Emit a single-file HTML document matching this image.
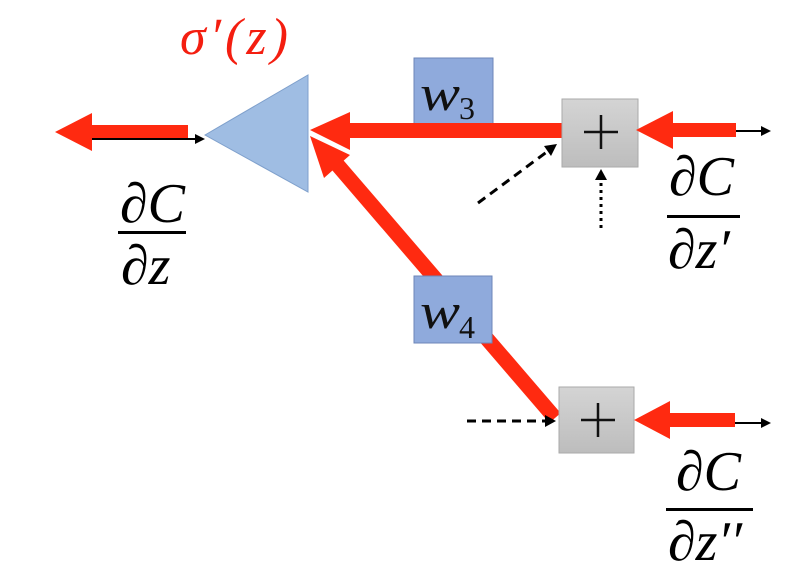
<!DOCTYPE html>
<html><head><meta charset="utf-8"><style>
body{margin:0;background:#fff;width:793px;height:578px;overflow:hidden}
svg text{font-family:"Liberation Serif",serif;font-style:italic}
</style></head><body>
<svg width="793" height="578" viewBox="0 0 793 578">
<defs>
<linearGradient id="g" x1="0" y1="0" x2="0" y2="1"><stop offset="0" stop-color="#d4d4d4"/><stop offset="1" stop-color="#bdbdbd"/></linearGradient>
</defs>
<polygon points="205,135 308,75 308,192" fill="#9fbde3" stroke="#7fa0cc" stroke-width="1"/>
<text x="180" y="54" font-size="52" fill="#f41e10" letter-spacing="4">σ′(z)</text>
<rect x="90" y="125" width="98" height="14" fill="#ff2a10"/>
<polygon points="55,132 92,113 92,151" fill="#ff2a10"/>
<line x1="92" y1="139" x2="198" y2="139" stroke="#000" stroke-width="2"/>
<polygon points="205,139 195,134 195,144" fill="#000"/>
<text x="120" y="222" font-size="56" fill="#000">∂C</text>
<rect x="118" y="231" width="68" height="3" fill="#000"/>
<text x="121" y="284" font-size="56" fill="#000">∂z</text>
<rect x="414" y="58" width="79" height="66" fill="#8faadc" stroke="#6c86b8"/>
<text x="420" y="110" font-size="50" fill="#111" textLength="40" lengthAdjust="spacingAndGlyphs">w</text>
<text x="459" y="119" font-size="32" style="font-style:normal" fill="#111">3</text>
<rect x="345" y="123" width="217" height="15" fill="#ff2a10"/>
<polygon points="310,130 350,112 350,150" fill="#ff2a10"/>
<line x1="555" y1="418" x2="335" y2="162" stroke="#ff2a10" stroke-width="15"/>
<polygon points="310,136 350,155 324,178" fill="#ff2a10"/>
<rect x="414" y="276" width="78" height="67" fill="#8faadc" stroke="#6c86b8"/>
<text x="420" y="328" font-size="50" fill="#111" textLength="40" lengthAdjust="spacingAndGlyphs">w</text>
<text x="459" y="338" font-size="32" style="font-style:normal" fill="#111">4</text>
<rect x="562" y="99" width="76" height="68" fill="url(#g)" stroke="#aaa"/>
<path d="M584,132 H618 M601,115 V149" stroke="#111" stroke-width="2.5"/>
<rect x="559" y="387" width="75" height="66" fill="url(#g)" stroke="#aaa"/>
<path d="M581,420 H615 M598,403 V437" stroke="#111" stroke-width="2.5"/>
<rect x="670" y="123" width="66" height="14" fill="#ff2a10"/>
<polygon points="636,130 673,111 673,149" fill="#ff2a10"/>
<line x1="736" y1="131" x2="763" y2="131" stroke="#000" stroke-width="2"/>
<polygon points="771,131 761,126 761,136" fill="#000"/>
<line x1="478" y1="203" x2="548" y2="151" stroke="#000" stroke-width="3" stroke-dasharray="9,6"/>
<polygon points="557,144 544,146 551,156" fill="#000"/>
<line x1="601" y1="228" x2="601" y2="178" stroke="#000" stroke-width="3" stroke-dasharray="3,4"/>
<polygon points="601,169 595,180 607,180" fill="#000"/>
<line x1="467" y1="421" x2="546" y2="421" stroke="#000" stroke-width="3" stroke-dasharray="9,6"/>
<polygon points="556,421 545,415 545,427" fill="#000"/>
<rect x="668" y="413" width="67" height="14" fill="#ff2a10"/>
<polygon points="634,420 670,401 670,439" fill="#ff2a10"/>
<line x1="735" y1="423" x2="763" y2="423" stroke="#000" stroke-width="2"/>
<polygon points="771,423 761,418 761,428" fill="#000"/>
<text x="669" y="195" font-size="56" fill="#000">∂C</text>
<rect x="667" y="215" width="73" height="3" fill="#000"/>
<text x="668" y="268" font-size="56" fill="#000">∂z′</text>
<text x="676" y="490" font-size="56" fill="#000">∂C</text>
<rect x="666" y="508" width="87" height="3" fill="#000"/>
<text x="668" y="560" font-size="56" fill="#000">∂z′′</text>
</svg>
</body></html>
